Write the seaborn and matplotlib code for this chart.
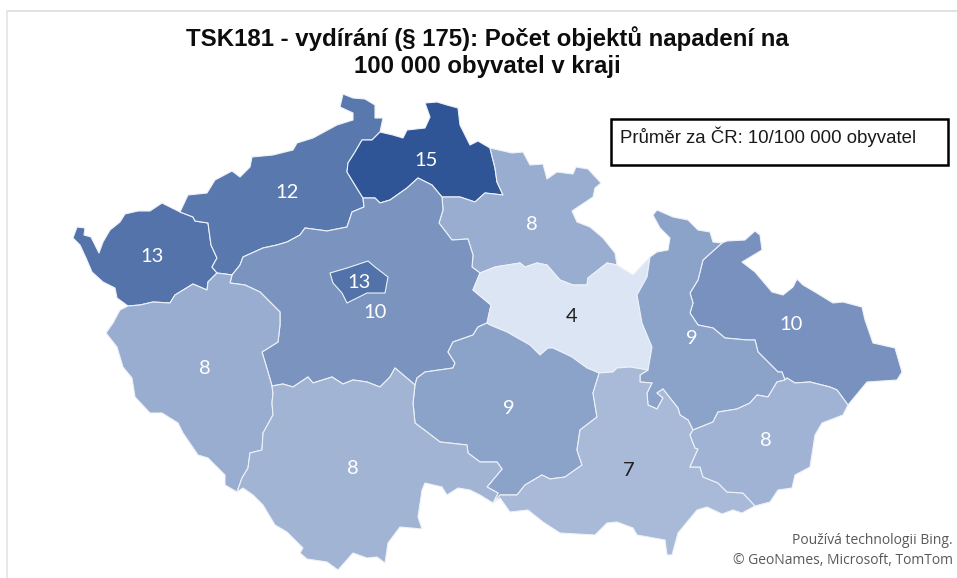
import matplotlib
matplotlib.use('Agg')
import matplotlib.pyplot as plt
from matplotlib.patches import Rectangle
import seaborn as sns

# Region rates (per 100 000), the labels are these rounded
regions = ['Karlovarsky', 'Ustecky', 'Liberecky', 'Kralovehradecky', 'Stredocesky', 'Praha', 'Pardubicky',
           'Moravskoslezsky', 'Olomoucky', 'Plzensky', 'Vysocina', 'Jihocesky', 'Jihomoravsky', 'Zlinsky']
rates = [12.7, 12.3, 15.0, 8.3, 10.2, 12.8, 4.0, 10.4, 9.15, 8.3, 9.15, 7.75, 7.3, 7.8]

# Shared borders
kv_outer = [(180, 212), (162, 203), (150, 211), (138, 211), (125, 214), (120, 222), (110, 230), (103, 242), (99, 253),
            (95, 245), (91, 237), (84, 235), (85, 228), (77, 227), (73, 238), (80, 245), (86, 258), (92, 272),
            (103, 282), (115, 288), (117, 298), (128, 306)]
kv_plzen = [(128, 306), (140, 305), (153, 302), (170, 303), (175, 295), (193, 284), (207, 290), (208, 282), (217, 273)]
usti_kv = [(180, 212), (193, 217), (195, 221), (208, 223), (211, 245), (217, 258), (212, 267), (217, 273)]
usti_plzen = [(217, 273), (225, 274), (232, 275)]
usti_stred = [(232, 275), (240, 265), (243, 257), (263, 248), (277, 245), (287, 242), (300, 235), (305, 228),
              (327, 231), (347, 227), (352, 212), (364, 207), (363, 198)]
usti_liberec = [(363, 198), (358, 190), (347, 172), (348, 163), (355, 152), (362, 140), (372, 140), (380, 132)]
usti_outer = [(180, 212), (188, 195), (207, 193), (215, 180), (232, 171), (240, 177), (250, 167), (252, 157),
              (273, 155), (293, 150), (297, 143), (313, 138), (337, 125), (353, 120), (353, 113), (340, 107),
              (343, 94), (353, 98), (365, 99), (375, 105), (375, 118), (383, 118), (380, 132)]
liberec_outer = [(380, 132), (393, 135), (403, 138), (407, 130), (425, 128), (430, 117), (425, 103), (437, 102),
                 (447, 105), (458, 108), (460, 125), (470, 145), (478, 141), (490, 148)]
liberec_hradec = [(490, 148), (495, 168), (497, 182), (503, 195)]
liberec_south = [(503, 195), (485, 193), (475, 202), (460, 197), (442, 197)]
liberec_stred = [(442, 197), (432, 185), (418, 178), (407, 188), (390, 200), (380, 203), (375, 198), (363, 198)]
stred_hradec = [(442, 197), (443, 210), (439, 223), (452, 240), (468, 239), (473, 255), (472, 267), (480, 273)]
hradec_outer = [(490, 148), (512, 153), (523, 152), (530, 165), (543, 164), (547, 179), (557, 172), (573, 174),
                (576, 167), (588, 169), (601, 183), (595, 188), (593, 197), (572, 211), (577, 222), (590, 227),
                (603, 238), (615, 253), (617, 265)]
hradec_pard = [(617, 265), (607, 263), (588, 278), (587, 285), (573, 285), (560, 280), (547, 265), (537, 263),
               (525, 267), (520, 263), (495, 267), (480, 273)]
pard_outer = [(617, 265), (633, 275), (650, 257)]
pard_olom = [(650, 257), (647, 277), (637, 295), (642, 323), (652, 347), (648, 370)]
pard_jmk = [(648, 370), (630, 367), (617, 368), (613, 372), (599, 373)]
pard_vys = [(599, 373), (587, 368), (572, 357), (553, 348), (548, 348), (540, 355), (530, 345), (507, 332),
            (490, 325), (487, 323)]
stred_pard = [(480, 273), (473, 290), (491, 305), (487, 323)]
stred_vys = [(487, 323), (478, 327), (473, 335), (453, 342), (448, 352), (455, 363), (453, 368), (425, 372),
             (417, 378), (415, 385)]
stred_jc = [(415, 385), (395, 368), (390, 377), (380, 387), (367, 382), (353, 380), (343, 384), (332, 377),
            (313, 383), (308, 377), (293, 387), (283, 384), (272, 386)]
stred_plzen = [(232, 275), (230, 283), (245, 285), (260, 292), (270, 302), (280, 312), (280, 325), (278, 342),
               (262, 352), (268, 372), (272, 386)]
plzen_outer = [(128, 306), (120, 310), (113, 323), (106, 333), (117, 347), (123, 367), (132, 378), (135, 397),
               (150, 413), (162, 413), (178, 423), (183, 433), (198, 455), (208, 458), (225, 475), (225, 485),
               (237, 492)]
plzen_jc = [(237, 492), (242, 478), (248, 468), (250, 453), (262, 450), (263, 433), (273, 415), (272, 403),
            (273, 393), (272, 386)]
jc_outer = [(237, 492), (243, 488), (253, 495), (263, 505), (275, 525), (287, 532), (303, 548), (300, 553),
            (307, 559), (327, 562), (338, 570), (353, 553), (367, 558), (377, 557), (385, 563), (388, 543),
            (400, 527), (422, 529), (418, 517), (422, 490), (425, 483), (442, 487), (447, 495), (458, 488),
            (470, 490), (480, 495), (493, 503)]
jc_vys = [(415, 385), (413, 403), (415, 423), (427, 432), (440, 442), (467, 445), (468, 453), (480, 462),
          (497, 462), (502, 469), (487, 487), (498, 493), (493, 503)]
vys_jmk = [(599, 373), (598, 377), (593, 393), (597, 417), (580, 430), (577, 450), (582, 465), (565, 477),
           (550, 479), (542, 475), (525, 485), (517, 495), (500, 495), (493, 503)]
jmk_olom = [(648, 370), (640, 375), (640, 382), (652, 383), (647, 393), (648, 405), (657, 409), (663, 398),
            (657, 393), (663, 389), (670, 398), (678, 408), (680, 415), (688, 420), (693, 430)]
jmk_zlin = [(693, 430), (690, 435), (695, 448), (698, 449), (690, 467), (700, 467), (703, 477), (718, 483),
            (727, 492), (743, 493), (755, 506)]
jmk_outer = [(493, 503), (500, 498), (510, 512), (528, 510), (543, 522), (560, 533), (595, 535), (607, 523),
             (617, 522), (633, 528), (637, 535), (665, 540), (667, 555), (672, 555), (678, 533), (697, 510),
             (707, 507), (722, 514), (733, 510), (742, 513), (755, 506)]
zlin_outer = [(755, 506), (770, 502), (778, 490), (792, 488), (795, 475), (810, 467), (815, 435), (822, 423),
              (843, 415), (848, 405)]
zlin_msk = [(848, 405), (837, 390), (830, 387), (810, 382), (795, 383), (787, 378), (785, 380)]
zlin_olom = [(693, 430), (713, 422), (718, 412), (737, 409), (750, 403), (757, 395), (768, 397), (777, 382), (785, 380)]
olom_msk = [(722, 243), (703, 260), (698, 280), (690, 293), (693, 303), (690, 313), (698, 325), (713, 328),
            (725, 338), (747, 340), (755, 340), (758, 352), (778, 372), (782, 372), (785, 380)]
olom_outer = [(650, 257), (657, 252), (668, 250), (670, 238), (660, 228), (653, 215), (657, 210), (673, 217),
              (688, 220), (698, 230), (710, 232), (713, 242), (722, 243)]
msk_outer = [(722, 243), (727, 241), (745, 240), (755, 231), (760, 235), (762, 250), (742, 262), (755, 272),
             (772, 292), (783, 295), (793, 287), (797, 279), (803, 285), (815, 292), (833, 303), (843, 302),
             (862, 307), (865, 320), (873, 343), (895, 348), (902, 372), (897, 380), (867, 382), (848, 405)]
praha_outline = [(330, 273), (347, 268), (368, 261), (375, 267), (388, 277), (385, 293), (367, 293), (347, 303),
                 (342, 293), (333, 283)]

rings = {
    'Karlovarsky': [kv_outer, kv_plzen, usti_kv[::-1]],
    'Ustecky': [usti_outer, usti_liberec[::-1], usti_stred[::-1], usti_plzen[::-1], usti_kv[::-1]],
    'Liberecky': [liberec_outer, liberec_hradec, liberec_south, liberec_stred, usti_liberec],
    'Kralovehradecky': [hradec_outer, hradec_pard, stred_hradec[::-1], liberec_south[::-1], liberec_hradec[::-1]],
    'Stredocesky': [usti_stred, liberec_stred[::-1], stred_hradec, stred_pard, stred_vys, stred_jc, stred_plzen[::-1]],
    'Praha': [praha_outline],
    'Pardubicky': [hradec_pard[::-1], pard_outer, pard_olom, pard_jmk, pard_vys, stred_pard[::-1]],
    'Moravskoslezsky': [msk_outer, zlin_msk, olom_msk[::-1]],
    'Olomoucky': [olom_outer, olom_msk, zlin_olom[::-1], jmk_olom[::-1], pard_olom[::-1]],
    'Plzensky': [plzen_outer, plzen_jc, stred_plzen[::-1], usti_plzen[::-1], kv_plzen[::-1]],
    'Vysocina': [stred_vys, jc_vys, vys_jmk[::-1], pard_vys],
    'Jihocesky': [plzen_jc, stred_jc[::-1], jc_vys, jc_outer[::-1]],
    'Jihomoravsky': [vys_jmk[::-1], pard_jmk[::-1], jmk_olom, jmk_zlin, jmk_outer[::-1]],
    'Zlinsky': [zlin_olom, zlin_msk[::-1], zlin_outer[::-1], jmk_zlin[::-1]],
}

# Where the numbers sit on the map
label_xy = {'Karlovarsky': (152, 257), 'Ustecky': (287, 193), 'Liberecky': (426, 161), 'Kralovehradecky': (532, 224),
            'Stredocesky': (375, 312), 'Praha': (359, 282), 'Pardubicky': (572, 316), 'Moravskoslezsky': (791, 324),
            'Olomoucky': (692, 338), 'Plzensky': (205, 369), 'Vysocina': (509, 408), 'Jihocesky': (353, 468),
            'Jihomoravsky': (629, 471), 'Zlinsky': (766, 441)}
dark_labels = ['Pardubicky', 'Jihomoravsky']

sns.set_theme(style='white')
plt.rcParams['font.family'] = ['Liberation Sans', 'DejaVu Sans']

shades = sns.blend_palette(['#DCE5F4', '#2F5597'], as_cmap=True)

fig, ax = plt.subplots(figsize=(9.57, 5.78), dpi=100)
ax.set_position([0, 0, 1, 1])
ax.set_xlim(0, 957)
ax.set_ylim(578, 0)
ax.axis('off')

for name, rate in zip(regions, rates):
    pts = [p for part in rings[name] for p in part]
    xs = [p[0] for p in pts]
    ys = [p[1] for p in pts]
    t = (rate - min(rates)) / (max(rates) - min(rates))
    ax.fill(xs, ys, facecolor=shades(t), edgecolor='#EEF2F8', linewidth=0.8, joinstyle='round', zorder=3 if name == 'Praha' else 2)
    lx, ly = label_xy[name]
    ax.text(lx, ly, str(round(rate)), family='Lato', fontsize=14.5, ha='center', va='center', zorder=4,
            color='#1F1F1F' if name in dark_labels else 'white')

# edges of the screenshot
ax.plot([6.5, 957], [10.5, 10.5], color='#DCDCDC', linewidth=1.2)
ax.plot([6.5, 6.5], [10.5, 578], color='#E4E4E4', linewidth=1.2)

ax.text(487, 39, 'TSK181 - vydírání (§ 175): Počet objektů napadení na', fontsize=17.3,
        fontweight='bold', ha='center', va='center', color='#0D0D0D')
ax.text(487, 66, '100 000 obyvatel v kraji', fontsize=17.3,
        fontweight='bold', ha='center', va='center', color='#0D0D0D')

ax.add_patch(Rectangle((611, 119), 337, 46, facecolor='white', edgecolor='black', linewidth=1.8, zorder=5))
ax.text(620, 137, 'Průměr za ČR: 10/100 000 obyvatel', fontsize=13.4, va='center', color='#1A1A1A', zorder=6)

ax.text(953, 541, 'Používá technologii Bing.', family='Open Sans', fontsize=10, ha='right', va='center', color='#595959')
ax.text(953, 561, '© GeoNames, Microsoft, TomTom', family='Open Sans', fontsize=10, ha='right', va='center', color='#595959')

fig.savefig('out.png', dpi=100)
